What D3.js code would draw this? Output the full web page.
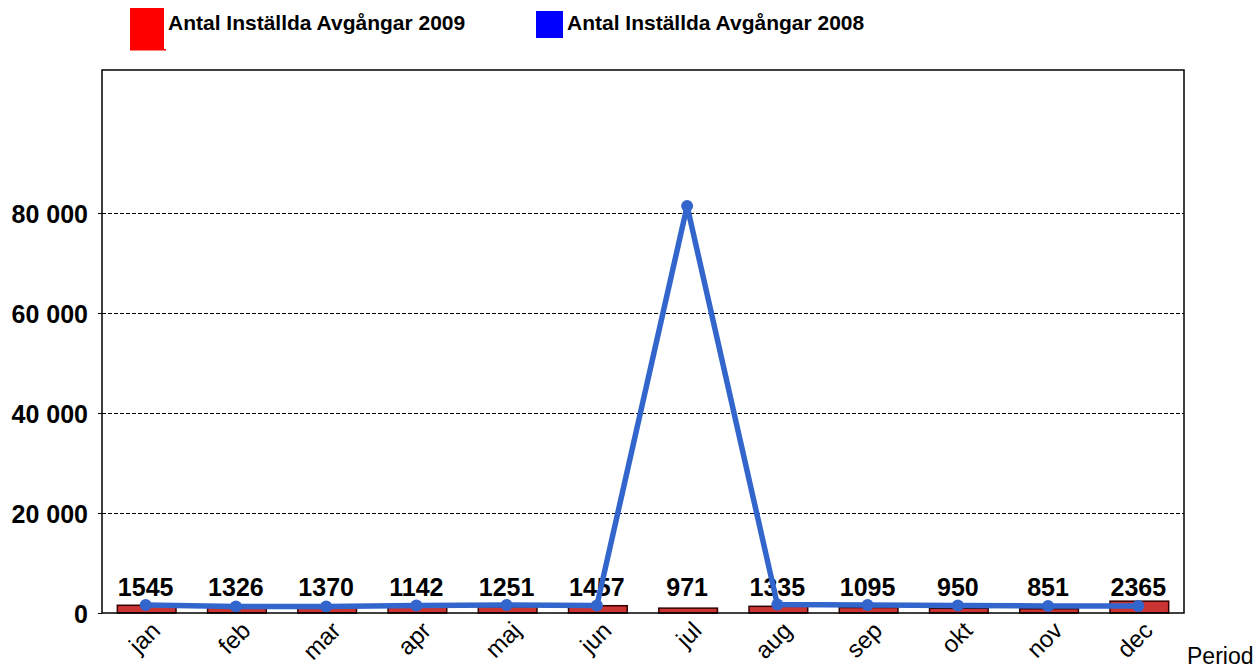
<!DOCTYPE html>
<html>
<head>
<meta charset="utf-8">
<script src="https://cdn.jsdelivr.net/npm/d3@7"></script>
<style>
  body { margin: 0; background: #fff; }
  text { font-family: "Liberation Sans", Arial, sans-serif; }
</style>
</head>
<body>
<svg width="1257" height="668"></svg>
<script>
'use strict'

const months = ['jan', 'feb', 'mar', 'apr', 'maj', 'jun', 'jul', 'aug', 'sep', 'okt', 'nov', 'dec']
const values2009 = [1545, 1326, 1370, 1142, 1251, 1457, 971, 1335, 1095, 950, 851, 2365]
const values2008 = [1600, 1300, 1300, 1500, 1600, 1500, 81400, 1700, 1600, 1500, 1400, 1400]
const yTicks = [0, 20000, 40000, 60000, 80000]

const margin = { top: 70, right: 73, bottom: 55, left: 102 }
const width = 1257 - margin.left - margin.right,
  height = 668 - margin.top - margin.bottom

const svg = d3.select('svg')
const g = svg.append('g').attr('transform', 'translate(' + margin.left + ',' + margin.top + ')')

const x = d3.scaleBand().domain(months).range([0, width]).paddingInner(0.35).paddingOuter(0.17)
const y = d3.scaleLinear().domain([0, 108600]).range([height, 0])

const fmt = v => d3.format(',')(v).replace(/,/g, ' ')
const cx = i => x(months[i]) + x.bandwidth() / 2 - 1

// gridlines
g.selectAll('.grid')
  .data(yTicks.filter(d => d > 0))
  .enter()
  .append('line')
  .attr('x1', 0)
  .attr('x2', width)
  .attr('y1', d => y(d))
  .attr('y2', d => y(d))
  .attr('stroke', '#000')
  .attr('stroke-width', 1)
  .attr('shape-rendering', 'crispEdges')
  .attr('stroke-dasharray', '4,2')

// y axis
const yAxis = g.append('g')
  .call(d3.axisLeft(y).tickValues(yTicks).tickFormat(fmt).tickSize(4).tickPadding(10))
yAxis.select('.domain').remove()
yAxis.selectAll('text')
  .style('font-size', '25px')
  .style('font-weight', 'bold')
  .attr('fill', '#000')
  .attr('dy', '0.36em')

// bars 2009
g.selectAll('.bar')
  .data(values2009)
  .enter()
  .append('rect')
  .attr('x', (d, i) => x(months[i]))
  .attr('width', x.bandwidth())
  .attr('y', d => y(d))
  .attr('height', d => height - y(d))
  .attr('fill', '#cc3333')
  .attr('stroke', '#330000')
  .attr('stroke-width', 1.5)

// value labels
g.selectAll('.lbl')
  .data(values2009)
  .enter()
  .append('text')
  .attr('x', (d, i) => cx(i))
  .attr('y', height - 17)
  .attr('text-anchor', 'middle')
  .style('font-size', '25px')
  .style('font-weight', 'bold')
  .text(d => d)

// line 2008
const line = d3.line()
  .x((d, i) => cx(i))
  .y(d => y(d))

g.append('path')
  .datum(values2008)
  .attr('d', line)
  .attr('fill', 'none')
  .attr('stroke', '#3366cc')
  .attr('stroke-width', 5.5)
  .attr('stroke-linejoin', 'round')

g.selectAll('.dot')
  .data(values2008)
  .enter()
  .append('circle')
  .attr('cx', (d, i) => cx(i))
  .attr('cy', d => y(d))
  .attr('r', 6)
  .attr('fill', '#3366cc')

// frame
g.append('rect')
  .attr('width', width)
  .attr('height', height)
  .attr('fill', 'none')
  .attr('stroke', '#000')
  .attr('stroke-width', 1.5)

// x axis labels
const xAxis = g.append('g')
  .attr('transform', 'translate(0,' + height + ')')
  .call(d3.axisBottom(x).tickSize(0).tickPadding(0))
xAxis.select('.domain').remove()
xAxis.selectAll('text')
  .style('font-size', '24px')
  .attr('fill', '#000')
  .attr('text-anchor', 'end')
  .attr('y', 0)
  .attr('dy', '0')
  .attr('transform', 'translate(15,19) rotate(-45)')

svg.append('text')
  .attr('x', 1187)
  .attr('y', 664)
  .style('font-size', '23px')
  .text('Period')

// legend
svg.append('rect').attr('x', 130).attr('y', 8).attr('width', 34).attr('height', 42).attr('fill', '#ff0000')
svg.append('rect').attr('x', 130).attr('y', 49).attr('width', 36).attr('height', 1.5).attr('fill', '#ff0000')
svg.append('text').attr('x', 168).attr('y', 30).style('font-size', '21px').style('font-weight', 'bold')
  .text('Antal Inställda Avgångar 2009')
svg.append('rect').attr('x', 536).attr('y', 11).attr('width', 27).attr('height', 27).attr('fill', '#0000ff')
svg.append('text').attr('x', 567).attr('y', 30).style('font-size', '21px').style('font-weight', 'bold')
  .text('Antal Inställda Avgångar 2008')
</script>
</body>
</html>
